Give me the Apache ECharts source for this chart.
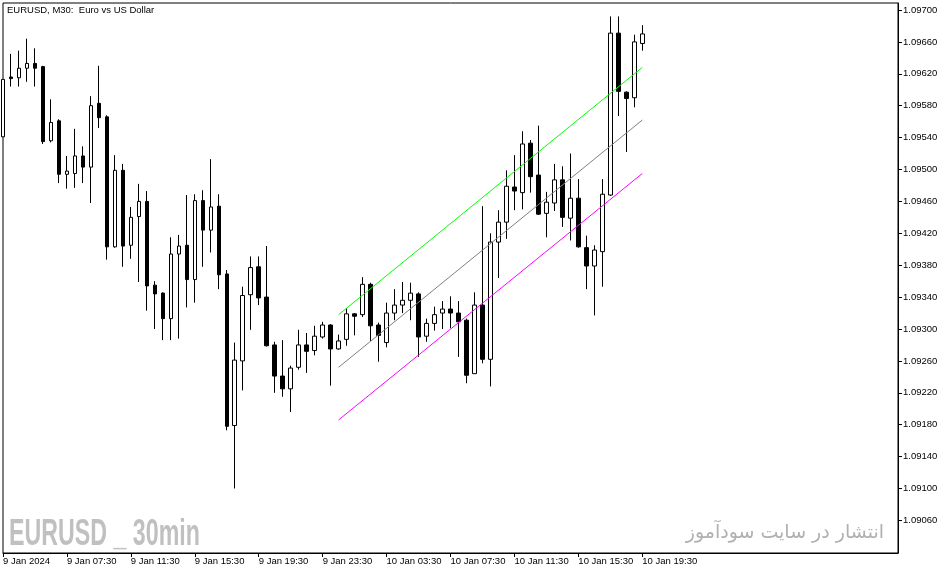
<!DOCTYPE html>
<html><head><meta charset="utf-8">
<script src="https://cdn.jsdelivr.net/npm/echarts@6/dist/echarts.min.js"></script>
<style>html,body{margin:0;padding:0;background:#fff}#c{width:951px;height:574px}</style>
</head><body><div id="c"></div>
<script>
// EURUSD M30 bars, 9 Jan 2024 03:30 .. 10 Jan 2024 19:30 (bar index 0..80)
const barOpen = [1.09541,1.09616,1.09615,1.09627,1.09633,1.09629,1.09536,1.09561,1.09494,1.09495,
1.09517,1.09503,1.09583,1.09566,1.09403,1.09499,1.09405,1.09441,1.09460,1.09355,
1.09345,1.09313,1.09394,1.09405,1.09362,1.09461,1.09424,1.09454,1.09369,1.09179,
1.09260,1.09343,1.09378,1.09340,1.09280,1.09241,1.09225,1.09252,1.09280,1.09273,
1.09290,1.09305,1.09275,1.09287,1.09319,1.09318,1.09356,1.09305,1.09283,1.09320,
1.09330,1.09336,1.09344,1.09291,1.09307,1.09320,1.09325,1.09320,1.09311,1.09244,
1.09330,1.09262,1.09409,1.09434,1.09478,1.09471,1.09533,1.09493,1.09445,1.09458,
1.09487,1.09439,1.09464,1.09402,1.09379,1.09397,1.09468,1.09671,1.09597,1.09590,
1.09658];
const barClose = [1.09613,1.09614,1.09627,1.09633,1.09627,1.09535,1.09559,1.09494,1.09498,1.09517,
1.09503,1.09580,1.09565,1.09403,1.09499,1.09404,1.09440,1.09460,1.09354,1.09344,
1.09313,1.09394,1.09404,1.09362,1.09461,1.09424,1.09453,1.09368,1.09178,1.09261,
1.09342,1.09377,1.09339,1.09279,1.09241,1.09225,1.09251,1.09280,1.09272,1.09291,
1.09305,1.09275,1.09285,1.09319,1.09316,1.09356,1.09304,1.09292,1.09320,1.09330,
1.09336,1.09345,1.09290,1.09307,1.09318,1.09325,1.09320,1.09309,1.09242,1.09330,
1.09262,1.09409,1.09434,1.09479,1.09473,1.09532,1.09491,1.09444,1.09459,1.09487,
1.09440,1.09464,1.09403,1.09379,1.09399,1.09469,1.09671,1.09598,1.09589,1.09660,
1.09670];
const barLow = [1.09541,1.09604,1.09604,1.09610,1.09604,1.09532,1.09534,1.09483,1.09476,1.09477,
1.09483,1.09458,1.09552,1.09387,1.09402,1.09378,1.09388,1.09359,1.09323,1.09300,
1.09286,1.09286,1.09288,1.09327,1.09333,1.09378,1.09396,1.09350,1.09173,1.09100,
1.09223,1.09299,1.09330,1.09278,1.09220,1.09215,1.09196,1.09249,1.09245,1.09267,
1.09288,1.09229,1.09274,1.09279,1.09292,1.09315,1.09285,1.09259,1.09277,1.09311,
1.09320,1.09311,1.09265,1.09284,1.09298,1.09300,1.09301,1.09265,1.09232,1.09244,
1.09257,1.09228,1.09364,1.09413,1.09449,1.09450,1.09471,1.09443,1.09415,1.09448,
1.09428,1.09411,1.09402,1.09350,1.09317,1.09353,1.09467,1.09567,1.09522,1.09578,
1.09649];
const barHigh = [1.09613,1.09645,1.09649,1.09664,1.09652,1.09630,1.09588,1.09563,1.09517,1.09551,
1.09529,1.09592,1.09630,1.09568,1.09518,1.09507,1.09453,1.09482,1.09473,1.09360,
1.09346,1.09415,1.09418,1.09468,1.09469,1.09474,1.09513,1.09469,1.09374,1.09283,
1.09353,1.09391,1.09391,1.09404,1.09284,1.09286,1.09254,1.09299,1.09295,1.09304,
1.09309,1.09306,1.09293,1.09326,1.09320,1.09365,1.09358,1.09308,1.09333,1.09350,
1.09359,1.09358,1.09346,1.09313,1.09328,1.09335,1.09341,1.09335,1.09313,1.09346,
1.09454,1.09420,1.09449,1.09499,1.09518,1.09548,1.09537,1.09555,1.09472,1.09507,
1.09504,1.09520,1.09488,1.09417,1.09405,1.09488,1.09692,1.09692,1.09598,1.09669,
1.09681];

// Regression channel (start bar, end bar) and its three lines' prices
const channelBars = [42, 80];
const channelUpper = [1.09318, 1.09628];
const channelMiddle = [1.09252, 1.09562];
const channelLower = [1.09186, 1.09495];

// Axis ticks
const xTickBars = [0, 8, 16, 24, 32, 40, 48, 56, 64, 72, 80];
const xTickLabels = ['9 Jan 2024','9 Jan 07:30','9 Jan 11:30','9 Jan 15:30','9 Jan 19:30','9 Jan 23:30',
  '10 Jan 03:30','10 Jan 07:30','10 Jan 11:30','10 Jan 15:30','10 Jan 19:30'];
const yTicks = [1.0906,1.0910,1.0914,1.0918,1.0922,1.0926,1.0930,1.0934,1.0938,1.0942,
  1.0946,1.0950,1.0954,1.0958,1.0962,1.0966,1.0970];

const chartTitle = 'EURUSD, M30:  Euro vs US Dollar';
const watermarkLeft = 'EURUSD _ 30min';
const watermarkRight = 'انتشار در سایت سودآموز';

const candles = barOpen.map((o, i) => [i, o, barClose[i], barLow[i], barHigh[i]]);
const mkLine = (vals) => channelBars.map((b, i) => [b, vals[i]]);

const FONT = '"Liberation Sans", Arial, sans-serif';
const chart = echarts.init(document.getElementById('c'), null, {renderer: 'canvas'});
chart.setOption({
  animation: false,
  backgroundColor: '#ffffff',
  grid: {left: 2, right: 53, top: 3, bottom: 21, show: true, borderColor: '#000', borderWidth: 1, backgroundColor: '#fff'},
  xAxis: {
    type: 'value', min: 0, max: 112, position: 'bottom',
    axisLine: {show: true, onZero: false, lineStyle: {color: '#000', width: 1}},
    splitLine: {show: false},
    axisTick: {show: true, customValues: xTickBars, length: 4, lineStyle: {color: '#000'}},
    axisLabel: {customValues: xTickBars, formatter: v => xTickLabels[xTickBars.indexOf(v)] || '',
      align: 'left', margin: 3, fontSize: 9.5, color: '#000', fontFamily: FONT}
  },
  yAxis: {
    type: 'value', position: 'right', min: 1.0901912, max: 1.0970878,
    axisLine: {show: true, onZero: false, lineStyle: {color: '#000', width: 1}},
    splitLine: {show: false},
    axisTick: {show: true, customValues: yTicks, length: 4, lineStyle: {color: '#000'}},
    axisLabel: {customValues: yTicks, formatter: v => v.toFixed(5), margin: 5,
      fontSize: 9.5, color: '#000', fontFamily: FONT}
  },
  graphic: [
    {type: 'text', x: 7, y: 10, z: 100,
      style: {text: chartTitle, font: '9.5px ' + FONT, fill: '#000', textVerticalAlign: 'middle'}},
    {type: 'text', x: 9, y: 535, scaleX: 0.645, z: 1,
      style: {text: watermarkLeft, font: 'bold 36px ' + FONT, fill: '#c0c0c0', textVerticalAlign: 'middle'}},
    {type: 'text', x: 884, y: 533, z: 1,
      style: {text: watermarkRight, font: '19px "DejaVu Sans", sans-serif', fill: '#b0b0b0', textAlign: 'right', textVerticalAlign: 'middle'}}
  ],
  series: [
    {type: 'candlestick', data: candles, barWidth: 4, clip: true,
      itemStyle: {color: '#ffffff', color0: '#000000', borderColor: '#000000', borderColor0: '#000000', borderWidth: 1}},
    {type: 'line', data: mkLine(channelUpper), symbol: 'none', lineStyle: {color: '#00ff00', width: 1}, z: 5},
    {type: 'line', data: mkLine(channelMiddle), symbol: 'none', lineStyle: {color: '#808080', width: 1}, z: 5},
    {type: 'line', data: mkLine(channelLower), symbol: 'none', lineStyle: {color: '#ff00ff', width: 1}, z: 5}
  ]
});
</script>
</body></html>
